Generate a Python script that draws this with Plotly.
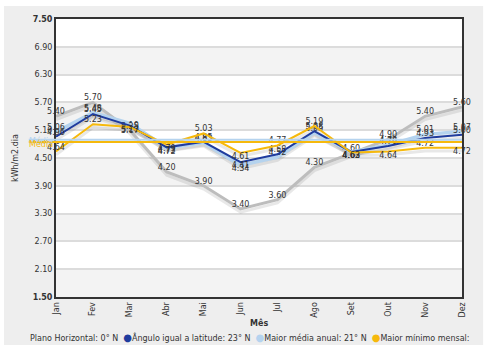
import plotly.graph_objects as go

# Monthly solar irradiation (kWh/m2.dia) for four panel inclinations
months = ["Jan", "Fev", "Mar", "Abr", "Mai", "Jun", "Jul", "Ago", "Set", "Out", "Nov", "Dez"]
plano_horizontal = [5.40, 5.70, 5.10, 4.20, 3.90, 3.40, 3.60, 4.30, 4.60, 4.90, 5.40, 5.60]
angulo_latitude = [4.96, 5.45, 5.20, 4.73, 4.85, 4.41, 4.58, 5.08, 4.63, 4.76, 4.93, 5.00]
maior_media = [5.06, 5.48, 5.25, 4.72, 4.83, 4.34, 4.52, 5.05, 4.63, 4.78, 5.01, 5.07]
maior_minimo = [4.64, 5.23, 5.17, 4.79, 5.03, 4.61, 4.77, 5.19, 4.62, 4.64, 4.72, 4.72]

series_names = [
    "Plano Horizontal: 0° N",
    "Ângulo igual a latitude: 23° N",
    "Maior média anual: 21° N",
    "Maior mínimo mensal:",
]
y_ticks = [1.50, 2.10, 2.70, 3.30, 3.90, 4.50, 5.10, 5.70, 6.30, 6.90, 7.50]

C_GRAY = "#BDBDBD"
C_DARK = "#1F3C9E"
C_LIGHT = "#B5D3EE"
C_ORANGE = "#F6B90C"
TXT = "#333333"
FONT = "DejaVu Sans"

x = list(range(len(months)))

T, B = "top center", "bottom center"
pos_top = [T] * 12
pos_blue = [T, T, B, B, T, B, T, T, B, T, T, T]
pos_min = [T, T, B, B, T, B, T, T, B, B, T, B]

SHADOW_DY = 0.07  # drop shadow offset (~3 px)

fig = go.Figure()

series = [
    (plano_horizontal, C_GRAY, 3, pos_top),
    (maior_media, C_LIGHT, 3.5, pos_blue),
    (angulo_latitude, C_DARK, 2, pos_blue),
    (maior_minimo, C_ORANGE, 2, pos_min),
]

# drop shadows first
for vals, col, w, _ in series:
    fig.add_trace(go.Scatter(
        x=x, y=[v - SHADOW_DY for v in vals], mode="lines",
        line=dict(color="rgba(0,0,0,0.09)", width=3),
        hoverinfo="skip", showlegend=False,
    ))

for (vals, col, w, pos), name in zip(series, [series_names[0], series_names[2], series_names[1], series_names[3]]):
    fig.add_trace(go.Scatter(
        x=x, y=vals, mode="lines+text", name=name,
        line=dict(color=col, width=w),
        texttemplate="%{y:.2f}", textposition=pos,
        textfont=dict(family=FONT, size=8, color=TXT),
        cliponaxis=False, showlegend=False,
    ))

media_blue = sum(maior_media) / len(maior_media)
media_orange = sum(maior_minimo) / len(maior_minimo)

shapes = [
    # grey panel behind the whole chart
    dict(type="rect", xref="paper", yref="paper", x0=-0.128, x1=1.052, y0=-0.173, y1=1.047,
         fillcolor="#EEEEEE", line=dict(width=0), layer="below"),
    # white plot area
    dict(type="rect", xref="paper", yref="paper", x0=0, x1=1, y0=0, y1=1,
         fillcolor="white", line=dict(width=0), layer="below"),
]
# alternating bands
for i in range(0, len(y_ticks) - 1, 2):
    shapes.append(dict(type="rect", xref="paper", yref="y", x0=0, x1=1,
                       y0=y_ticks[i], y1=y_ticks[i + 1],
                       fillcolor="#F3F3F3", line=dict(width=0), layer="below"))
# average lines
for val, col in [(media_blue, C_LIGHT), (media_orange, C_ORANGE)]:
    shapes.append(dict(type="line", xref="paper", yref="y", x0=-0.067, x1=1,
                       y0=val, y1=val, line=dict(color=col, width=2), layer="above"))

annotations = [
    dict(text="Média", xref="paper", yref="y", x=-0.037, y=media_blue, xanchor="center",
         yanchor="middle", yshift=-1, showarrow=False,
         font=dict(family=FONT, size=8, color=C_LIGHT)),
    dict(text="Média", xref="paper", yref="y", x=-0.037, y=media_orange, xanchor="center",
         yanchor="middle", yshift=-2, showarrow=False,
         font=dict(family=FONT, size=8, color=C_ORANGE)),
    dict(text="<b>Mês</b>", xref="paper", yref="paper", x=0.5, y=-0.0935,
         xanchor="center", yanchor="middle", showarrow=False,
         font=dict(family=FONT, size=8, color=TXT)),
    dict(text="kWh/m2.dia", xref="paper", yref="paper", x=-0.101, y=0.5, textangle=-90,
         xanchor="center", yanchor="middle", showarrow=False,
         font=dict(family=FONT, size=8, color=TXT)),
    dict(
        text=(f"{series_names[0]}  "
              f"<span style='color:{C_DARK};font-size:10px'>●</span>{series_names[1]}  "
              f"<span style='color:{C_LIGHT};font-size:10px'>●</span>{series_names[2]}  "
              f"<span style='color:{C_ORANGE};font-size:10px'>●</span>{series_names[3]}"),
        xref="paper", yref="paper", x=0.477, y=-0.144, xanchor="center", yanchor="middle",
        showarrow=False, font=dict(family=FONT, size=8, color=TXT)),
]

tick_text = [f"<b>{v:.2f}</b>" if v in (y_ticks[0], y_ticks[-1]) else f"{v:.2f}" for v in y_ticks]

fig.update_layout(
    width=489, height=349,
    margin=dict(l=56, r=27, t=19, b=52),
    paper_bgcolor="white", plot_bgcolor="rgba(0,0,0,0)",
    font=dict(family=FONT, size=8, color=TXT),
    shapes=shapes, annotations=annotations, showlegend=False,
    xaxis=dict(range=[0, 11], tickvals=x, ticktext=months, tickangle=-90,
               showgrid=False, zeroline=False, showline=True, mirror=True,
               linecolor="#333333", linewidth=2, ticks="",
               tickfont=dict(family=FONT, size=8, color=TXT)),
    yaxis=dict(range=[1.5, 7.5], tickvals=y_ticks, ticktext=tick_text,
               showgrid=True, gridcolor="#DCDCDC", gridwidth=2, zeroline=False,
               showline=True, mirror=True, linecolor="#333333", linewidth=2, ticks="",
               tickfont=dict(family=FONT, size=8, color=TXT)),
)

fig.write_html("out.html")
